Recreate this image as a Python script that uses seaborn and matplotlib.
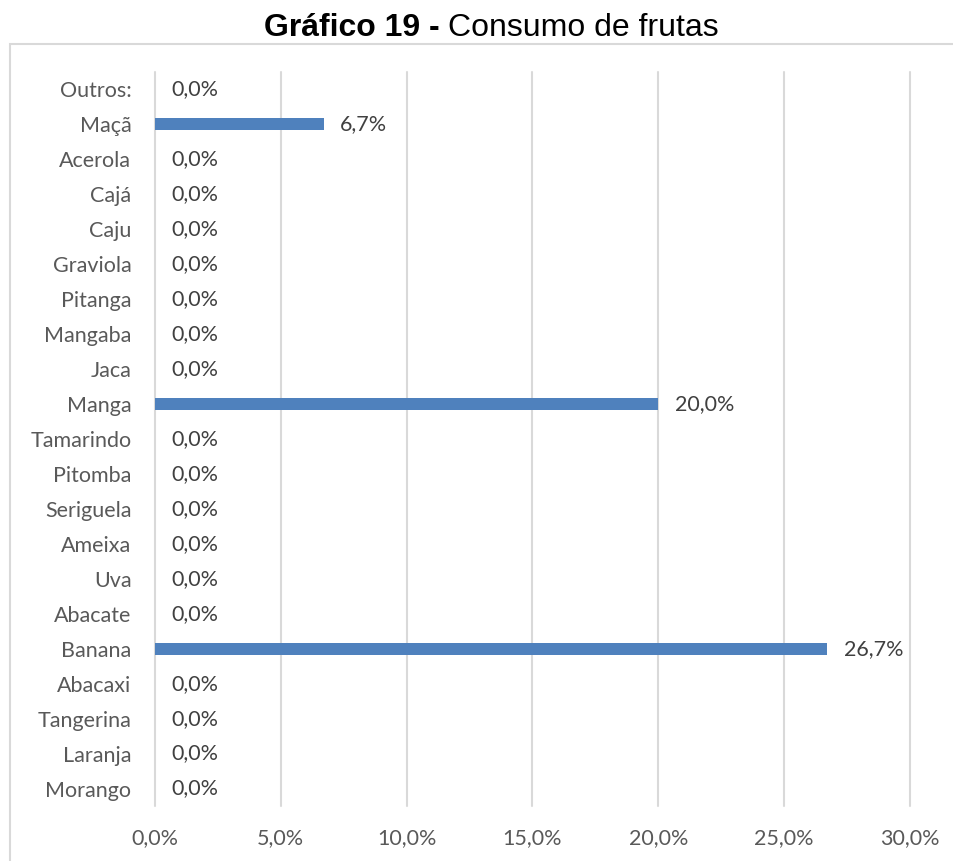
import matplotlib
matplotlib.use("Agg")
import matplotlib.pyplot as plt
import seaborn as sns
import pandas as pd
from matplotlib.patches import Rectangle
from matplotlib.ticker import FuncFormatter

frutas = ["Outros:", "Maçã", "Acerola", "Cajá", "Caju", "Graviola", "Pitanga",
          "Mangaba", "Jaca", "Manga", "Tamarindo", "Pitomba", "Seriguela",
          "Ameixa", "Uva", "Abacate", "Banana", "Abacaxi", "Tangerina",
          "Laranja", "Morango"]
percentual = [0.0, 6.7, 0.0, 0.0, 0.0, 0.0, 0.0, 0.0, 0.0, 20.0, 0.0, 0.0,
              0.0, 0.0, 0.0, 0.0, 26.7, 0.0, 0.0, 0.0, 0.0]
x_ticks = [0, 5, 10, 15, 20, 25, 30]

df = pd.DataFrame({"fruta": frutas, "pct": percentual})

sns.set_theme(style="white")
plt.rcParams["font.family"] = ["Lato", "DejaVu Sans"]

fig = plt.figure(figsize=(9.54, 8.61), dpi=100)
ax = fig.add_axes([155 / 954, 1 - 806 / 861, 755 / 954, 734 / 861])

# outer chart border (runs off the right/bottom edge)
fig.patches.append(Rectangle((10 / 954, -0.05), 1.2, 1 - 44 / 861 + 0.05,
                             transform=fig.transFigure, fill=False,
                             edgecolor="#d9d9d9", linewidth=1.5, zorder=0))

sns.barplot(data=df, x="pct", y="fruta", orient="h", color="#4f81bd",
            width=0.34, saturation=1, linewidth=0, ax=ax, zorder=3)

ax.set_xlim(0, 30)
ax.set_xticks(x_ticks)
ax.xaxis.set_major_formatter(FuncFormatter(lambda v, p: f"{v:.1f}%".replace(".", ",")))
ax.grid(axis="x", color="#d9d9d9", linewidth=1.5, zorder=0)
ax.grid(axis="y", visible=False)
for gl in ax.get_xgridlines():
    gl.set_clip_on(False)
for s in ax.spines.values():
    s.set_visible(False)
ax.set_xlabel("")
ax.set_ylabel("")
ax.tick_params(axis="both", length=0, labelsize=15.5, labelcolor="#595959")
ax.tick_params(axis="y", pad=17)
ax.tick_params(axis="x", pad=16)

for i, v in enumerate(percentual):
    ax.annotate(f"{v:.1f}%".replace(".", ","), (v, i), xytext=(12, 0),
                textcoords="offset points", va="center", ha="left",
                fontsize=15.5, color="#404040")

fig.text(0.47, 1 - 28 / 861, "Gráfico 19 - ", fontsize=23, fontweight="bold",
         family="Liberation Sans", ha="right", va="center", color="black")
fig.text(0.47, 1 - 28 / 861, "Consumo de frutas", fontsize=23,
         family="Liberation Sans", ha="left", va="center", color="black")

fig.savefig("out.png", dpi=100)
